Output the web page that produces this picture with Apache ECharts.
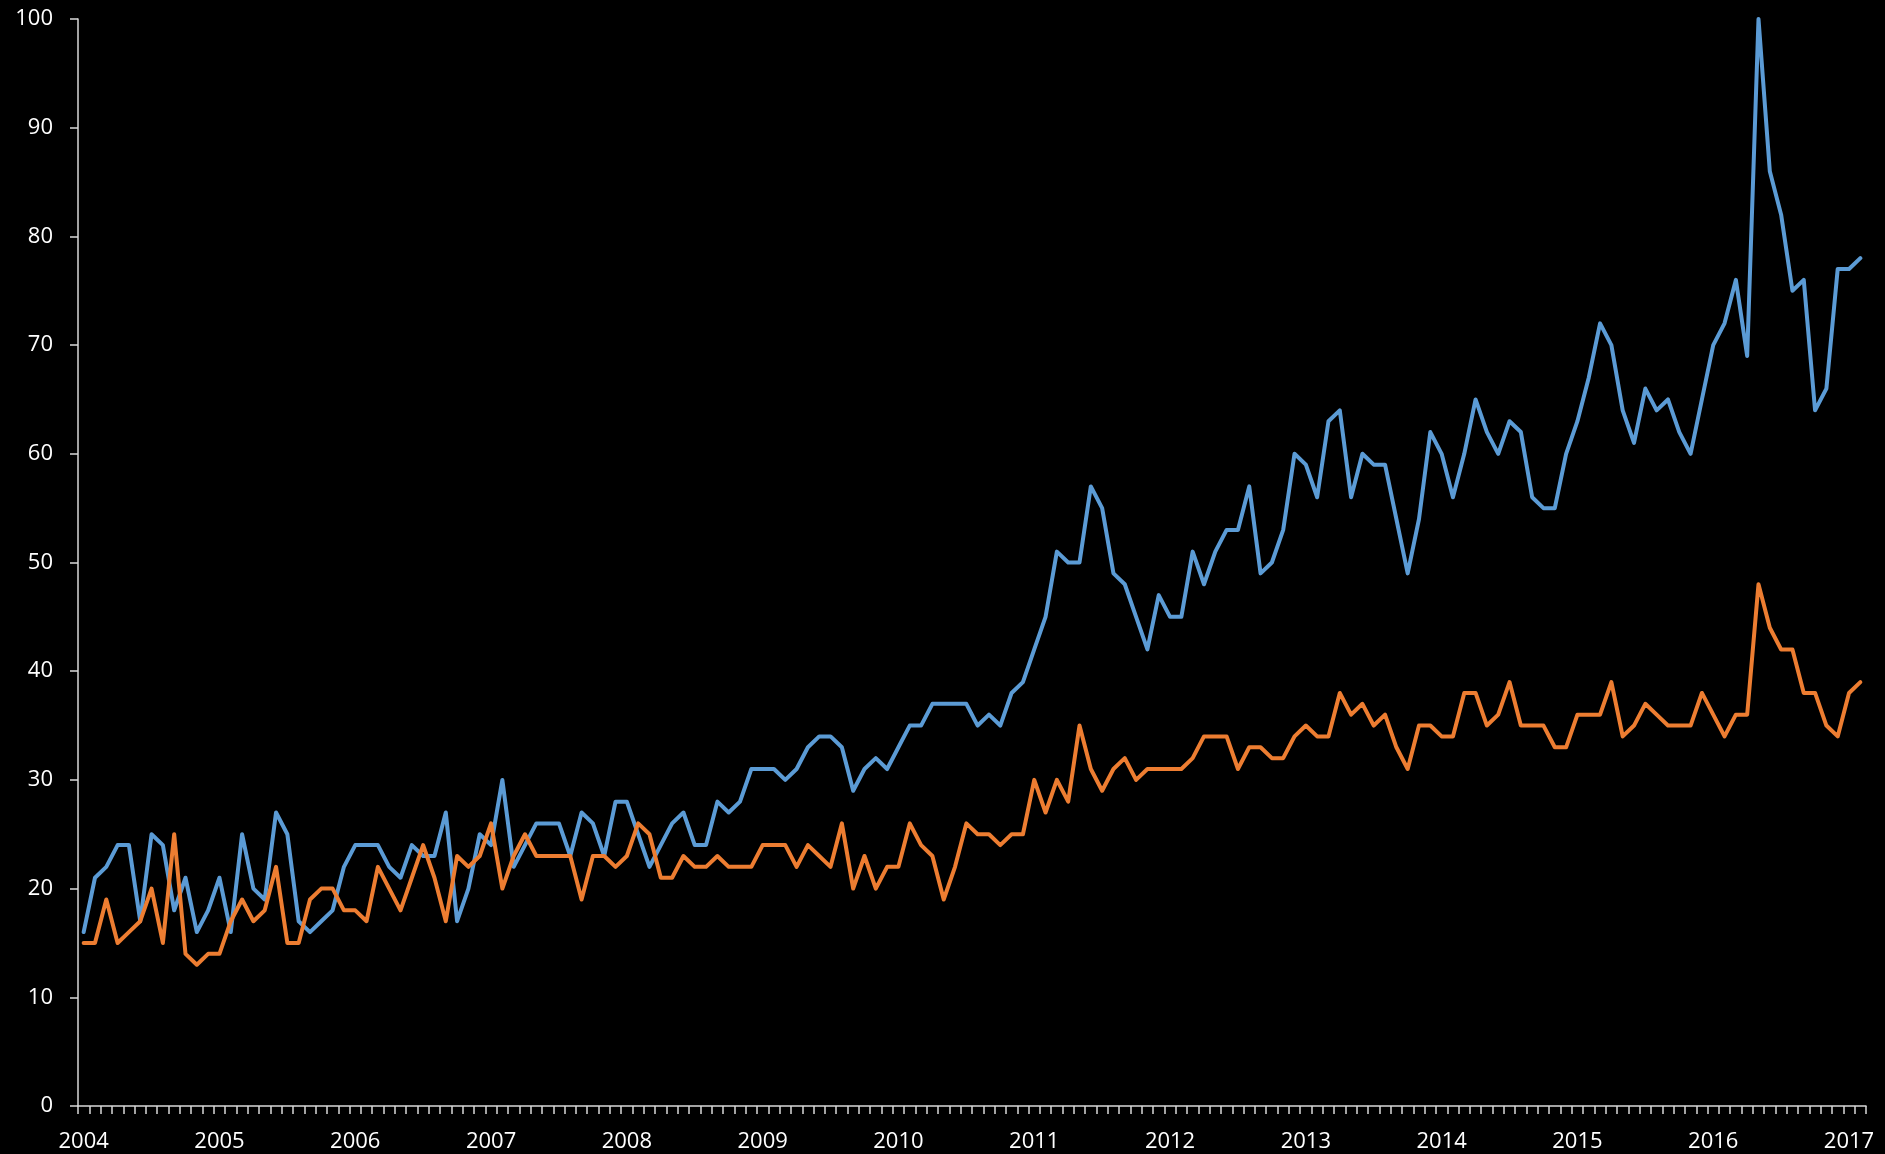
<!DOCTYPE html>
<html>
<head>
<meta charset="utf-8">
<script src="https://cdn.jsdelivr.net/npm/echarts@6/dist/echarts.min.js"></script>
<style>
html,body{margin:0;padding:0;background:#000;}
#chart{width:1885px;height:1154px;}
</style>
</head>
<body>
<div id="chart"></div>
<script>
// Monthly categories: Jan 2004 .. Feb 2017
var startYear = 2004;
var monthCount = 158;
var categories = [];
for (var k = 0; k < monthCount; k++) {
  var yy = startYear + Math.floor(k / 12);
  var mm = (k % 12) + 1;
  categories.push(yy + '-' + (mm < 10 ? '0' + mm : mm));
}

var blueValues = [
  16, 21, 22, 24, 24, 17, 25, 24, 18, 21, 16, 18,
  21, 16, 25, 20, 19, 27, 25, 17, 16, 17, 18, 22,
  24, 24, 24, 22, 21, 24, 23, 23, 27, 17, 20, 25,
  24, 30, 22, 24, 26, 26, 26, 23, 27, 26, 23, 28,
  28, 25, 22, 24, 26, 27, 24, 24, 28, 27, 28, 31,
  31, 31, 30, 31, 33, 34, 34, 33, 29, 31, 32, 31,
  33, 35, 35, 37, 37, 37, 37, 35, 36, 35, 38, 39,
  42, 45, 51, 50, 50, 57, 55, 49, 48, 45, 42, 47,
  45, 45, 51, 48, 51, 53, 53, 57, 49, 50, 53, 60,
  59, 56, 63, 64, 56, 60, 59, 59, 54, 49, 54, 62,
  60, 56, 60, 65, 62, 60, 63, 62, 56, 55, 55, 60,
  63, 67, 72, 70, 64, 61, 66, 64, 65, 62, 60, 65,
  70, 72, 76, 69, 100, 86, 82, 75, 76, 64, 66, 77,
  77, 78
];

var orangeValues = [
  15, 15, 19, 15, 16, 17, 20, 15, 25, 14, 13, 14,
  14, 17, 19, 17, 18, 22, 15, 15, 19, 20, 20, 18,
  18, 17, 22, 20, 18, 21, 24, 21, 17, 23, 22, 23,
  26, 20, 23, 25, 23, 23, 23, 23, 19, 23, 23, 22,
  23, 26, 25, 21, 21, 23, 22, 22, 23, 22, 22, 22,
  24, 24, 24, 22, 24, 23, 22, 26, 20, 23, 20, 22,
  22, 26, 24, 23, 19, 22, 26, 25, 25, 24, 25, 25,
  30, 27, 30, 28, 35, 31, 29, 31, 32, 30, 31, 31,
  31, 31, 32, 34, 34, 34, 31, 33, 33, 32, 32, 34,
  35, 34, 34, 38, 36, 37, 35, 36, 33, 31, 35, 35,
  34, 34, 38, 38, 35, 36, 39, 35, 35, 35, 33, 33,
  36, 36, 36, 39, 34, 35, 37, 36, 35, 35, 35, 38,
  36, 34, 36, 36, 48, 44, 42, 42, 38, 38, 35, 34,
  38, 39
];

var yMin = 0, yMax = 100, yStep = 10;

var chart = echarts.init(document.getElementById('chart'), null, {renderer: 'canvas'});
var axisColor = '#d9d9d9';
var labelFont = {color: '#ffffff', fontFamily: 'Open Sans', fontSize: 22};

chart.setOption({
  backgroundColor: '#000000',
  animation: false,
  grid: {left: 78, right: 19, top: 19, bottom: 48, containLabel: false},
  xAxis: {
    type: 'category',
    data: categories,
    boundaryGap: true,
    axisLine: {show: true, lineStyle: {color: axisColor, width: 1.5}},
    axisTick: {show: true, interval: 0, length: 8, alignWithLabel: false, lineStyle: {color: axisColor, width: 1.5}},
    axisLabel: Object.assign({
      interval: 11,
      margin: 25,
      formatter: function (v) { return v.slice(0, 4); }
    }, labelFont),
    splitLine: {show: false}
  },
  yAxis: {
    type: 'value',
    min: yMin, max: yMax, interval: yStep,
    axisLine: {show: true, lineStyle: {color: axisColor, width: 1.5}},
    axisTick: {show: true, length: 8, lineStyle: {color: axisColor, width: 1.5}},
    axisLabel: Object.assign({margin: 25}, labelFont),
    splitLine: {show: false}
  },
  series: [
    {
      name: 'Blue', type: 'line', data: blueValues,
      showSymbol: false, symbol: 'none',
      lineStyle: {color: '#5B9BD5', width: 4, join: 'round', cap: 'round'},
      itemStyle: {color: '#5B9BD5'}
    },
    {
      name: 'Orange', type: 'line', data: orangeValues,
      showSymbol: false, symbol: 'none',
      lineStyle: {color: '#ED7D31', width: 4, join: 'round', cap: 'round'},
      itemStyle: {color: '#ED7D31'}
    }
  ]
});
</script>
</body>
</html>
